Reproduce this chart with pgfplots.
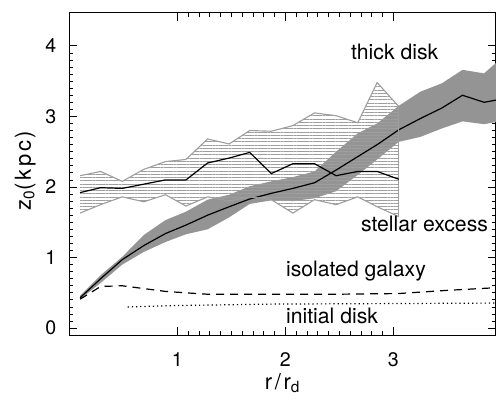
\documentclass[border=0pt]{standalone}
\usepackage{pgfplots}
\pgfplotsset{compat=1.18}
\usepackage{pgfplotstable}
\usepgfplotslibrary{fillbetween}
\usetikzlibrary{patterns.meta}
\usepackage{fontspec}
\setmainfont{TeX Gyre Heros}
\newfontfamily\lblfont[LetterSpace=12]{TeX Gyre Heros}

% thick disk band: x, lower, mean, upper
\pgfplotstableread{
x    lo    mid   hi
0.10 0.41  0.43  0.46
0.29 0.64  0.70  0.75
0.49 0.90  0.97  1.01
0.69 1.08  1.17  1.32
0.89 1.22  1.34  1.53
1.08 1.33  1.46  1.65
1.28 1.40  1.60  1.82
1.48 1.57  1.72  1.89
1.67 1.76  1.83  2.01
1.87 1.81  1.91  2.08
2.07 1.80  1.98  2.14
2.27 1.84  2.06  2.22
2.47 1.94  2.24  2.50
2.67 2.17  2.43  2.76
2.85 2.39  2.60  2.90
3.05 2.64  2.81  3.15
3.25 2.71  2.97  3.35
3.45 2.83  3.12  3.47
3.64 2.93  3.30  3.66
3.84 2.89  3.20  3.61
3.98 2.93  3.24  3.80
}\thickdisk

% stellar excess: x, lower, mean, upper
\pgfplotstableread{
x    lo    mid   hi
0.10 1.63  1.92  2.16
0.29 1.75  1.99  2.22
0.49 1.86  1.98  2.08
0.69 1.79  2.04  2.25
0.89 1.89  2.10  2.36
1.08 1.73  2.10  2.39
1.28 1.86  2.34  2.68
1.48 1.80  2.41  2.61
1.67 1.86  2.49  2.80
1.87 1.82  2.19  2.79
2.07 1.63  2.33  2.87
2.27 1.82  2.33  3.05
2.47 1.75  2.16  3.01
2.67 1.86  2.22  2.91
2.85 1.72  2.22  3.48
3.05 1.58  2.11  3.14
}\excess

\definecolor{bandgray}{gray}{0.58}
\definecolor{hatchgray}{gray}{0.62}

\begin{document}
\begin{tikzpicture}
\begin{axis}[
    scale only axis,
    width=213.3pt, height=161.2pt,
    xmin=0, xmax=3.95,
    ymin=-0.1, ymax=4.47,
    xtick={1,2,3}, ytick={0,1,2,3,4},
    minor x tick num=9, minor y tick num=9,
    tick pos=both, tick align=inside,
    xticklabel pos=lower, yticklabel pos=left,
    major tick length=4pt, minor tick length=2pt,
    axis line style={line width=0.5pt},
    every tick/.style={black, line width=0.4pt},
    /pgf/number format/assume math mode=true,
    ticklabel style={font=\fontsize{9.8}{11}\selectfont},
    xticklabel style={anchor=north, yshift=-5pt},
    yticklabel style={anchor=east, xshift=-3pt},
    xlabel={r/r\textsubscript{d}},
    ylabel={z\textsubscript{0}(kpc)},
    label style={font=\lblfont\fontsize{11}{12}\selectfont},
    xlabel style={at={(axis description cs:0.5,-0.1675)}, anchor=base},
    ylabel style={at={(axis description cs:-0.103,0.51)}, anchor=center},
]
% thick disk band
\addplot[draw=none, name path=tdlo, forget plot] table[x=x, y=lo] {\thickdisk};
\addplot[draw=none, name path=tdhi, forget plot] table[x=x, y=hi] {\thickdisk};
\addplot[bandgray, draw=none] fill between[of=tdlo and tdhi];
\addplot[black, line width=0.6pt] table[x=x, y=mid] {\thickdisk};

% stellar excess hatched region
\addplot[hatchgray, line width=0.55pt, name path=selo] table[x=x, y=lo] {\excess};
\addplot[hatchgray, line width=0.55pt, name path=sehi] table[x=x, y=hi] {\excess};
\addplot[draw=none, pattern={Lines[angle=0, distance=1.62pt, line width=0.5pt]}, pattern color=hatchgray]
    fill between[of=selo and sehi];
\addplot[hatchgray, line width=0.55pt] coordinates {(3.05,1.58) (3.05,3.14)};
\addplot[black, line width=0.6pt] table[x=x, y=mid] {\excess};

% isolated galaxy
\addplot[black, line width=0.6pt, dash pattern=on 4pt off 3pt] coordinates {
(0.10,0.41) (0.29,0.59) (0.49,0.60) (0.69,0.56) (0.89,0.52) (1.08,0.50)
(1.28,0.48) (1.87,0.48) (2.47,0.48) (3.05,0.49) (3.50,0.535) (3.98,0.575)};

% initial disk
\addplot[black, line width=0.6pt, dash pattern=on 0.6pt off 1.5pt] coordinates {
(0.54,0.30) (1.00,0.32) (1.86,0.34) (3.98,0.355)};

\node[anchor=base west, inner sep=0, font=\fontsize{10.6}{12}\selectfont] at (axis cs:2.605,3.80) {thick disk};
\node[anchor=base west, inner sep=0, font=\fontsize{10.6}{12}\selectfont] at (axis cs:2.697,1.368) {stellar excess};
\node[anchor=base west, inner sep=0, font=\fontsize{10.6}{12}\selectfont] at (axis cs:2.003,0.73) {isolated galaxy};
\node[anchor=base west, inner sep=0, font=\fontsize{10.6}{12}\selectfont] at (axis cs:2.003,0.07) {initial disk};
\end{axis}
\pgfresetboundingbox
\path[use as bounding box] (-34.65pt,-33pt) rectangle (215.3pt,167.55pt);
\end{tikzpicture}
\end{document}
